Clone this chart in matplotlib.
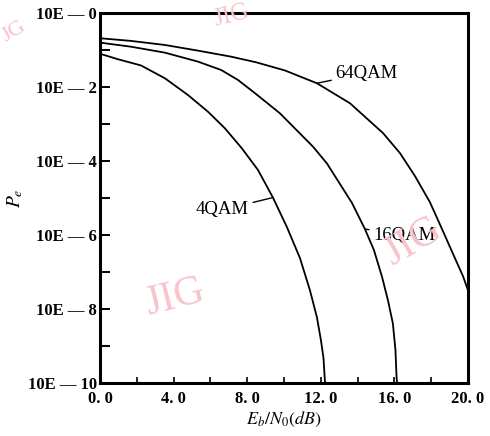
import matplotlib
matplotlib.use("Agg")
import matplotlib.pyplot as plt

# Eb/N0 (dB) and Pe
ebno_4qam = [0.0, 0.98, 2.23, 3.53, 4.78, 5.87, 6.79, 7.72, 8.59, 9.40, 10.16,
             10.87, 11.41, 11.79, 12.01, 12.15, 12.23]
pe_4qam = [7.99e-2, 5.67e-2, 3.85e-2, 1.73e-2, 6.11e-3, 2.15e-3, 7.65e-4, 2.17e-4,
           5.67e-5, 1.02e-5, 1.62e-6, 2.34e-7, 3.17e-8, 5.88e-9, 1.40e-9, 4.55e-10, 1.0e-10]

ebno_16qam = [0.0, 1.68, 3.53, 5.33, 6.58, 7.50, 8.48, 9.78, 11.58, 12.34, 13.70,
              14.40, 14.89, 15.33, 15.65, 15.92, 16.06, 16.12, 16.14]
pe_16qam = [1.60e-1, 1.24e-1, 8.55e-2, 4.88e-2, 2.91e-2, 1.56e-2, 6.50e-3, 1.95e-3,
            2.43e-4, 8.50e-5, 7.23e-6, 1.43e-6, 3.85e-7, 7.27e-8, 1.70e-8, 3.97e-9,
            7.50e-10, 1.42e-10, 1.0e-10]

ebno_64qam = [0.0, 1.68, 3.53, 5.33, 7.12, 8.48, 10.05, 11.79, 13.59, 15.38, 16.30,
              17.12, 17.93, 18.64, 19.29, 19.73, 20.0]
pe_64qam = [2.10e-1, 1.78e-1, 1.38e-1, 9.69e-2, 6.67e-2, 4.70e-2, 2.82e-2, 1.27e-2,
            3.64e-3, 5.70e-4, 1.64e-4, 3.90e-5, 7.69e-6, 1.26e-6, 2.34e-7, 7.60e-8, 3.17e-8]

x_ticks = [0, 4, 8, 12, 16, 20]
x_ticklabels = ["0. 0", "4. 0", "8. 0", "12. 0", "16. 0", "20. 0"]
y_exps = list(range(0, 11))
y_ticklabels = ["10E \u2014 %d" % e if e % 2 == 0 else "" for e in y_exps]

plt.rcParams["font.family"] = ["Liberation Serif", "DejaVu Serif"]
plt.rcParams["mathtext.fontset"] = "stix"

fig = plt.figure(figsize=(4.9, 4.36), dpi=100)
ax = fig.add_axes([0.204, 0.1227, 0.751, 0.847])

lw = 1.3
ax.plot(ebno_4qam, pe_4qam, color="black", lw=lw)
ax.plot(ebno_16qam, pe_16qam, color="black", lw=lw)
ax.plot(ebno_64qam, pe_64qam, color="black", lw=lw)

ax.set_yscale("log")
ax.set_xlim(0, 20)
ax.set_ylim(1e-10, 1)

ax.set_yticks([10.0 ** -e for e in y_exps])
ax.set_yticklabels(y_ticklabels, fontsize=12, fontweight="bold")
ax.yaxis.set_minor_locator(matplotlib.ticker.NullLocator())
ax.set_xticks(x_ticks)
ax.set_xticklabels(x_ticklabels, fontsize=12, fontweight="bold")
ax.set_xticks([2, 6, 10, 14, 18], minor=True)

ax.tick_params(axis="y", direction="in", length=7, width=1.4, pad=2)
ax.tick_params(axis="x", which="both", direction="in", length=4, width=1.2, pad=6)

for s in ax.spines.values():
    s.set_linewidth(2.2)

ax.set_xlabel(r"$E_b/N_0(dB)$", fontsize=13, labelpad=2)
ax.set_ylabel(r"$P_e$", fontsize=14, labelpad=2)

# curve labels with leader lines
line = dict(arrowstyle="-", color="black", lw=1.0, shrinkA=1, shrinkB=0)
ax.annotate("4QAM", xy=(ebno_4qam[9], pe_4qam[9]), xytext=(8.1, 4.7e-6),
            ha="right", va="center", fontsize=13.5, arrowprops=line)
ax.annotate("16QAM", xy=(ebno_16qam[11], pe_16qam[11]), xytext=(14.85, 9.8e-7),
            ha="left", va="center", fontsize=13.5, arrowprops=line)
ax.annotate("64QAM", xy=(ebno_64qam[7], pe_64qam[7]), xytext=(12.8, 2.4e-2),
            ha="left", va="center", fontsize=13.5, arrowprops=line)

# scan watermarks
wm = dict(color="#f8c3ca", ha="center", va="center", zorder=0)
fig.text(175 / 490, 1 - 298 / 436, "JIG", rotation=14, fontsize=30, **wm)
fig.text(413 / 490, 1 - 242 / 436, "JIG", rotation=30, fontsize=30, **wm)
fig.text(232 / 490, 1 - 16 / 436, "JIG", rotation=14, fontsize=18, **wm)
fig.text(14 / 490, 1 - 32 / 436, "JG", rotation=30, fontsize=16, **wm)

fig.savefig("out.png", dpi=100)
